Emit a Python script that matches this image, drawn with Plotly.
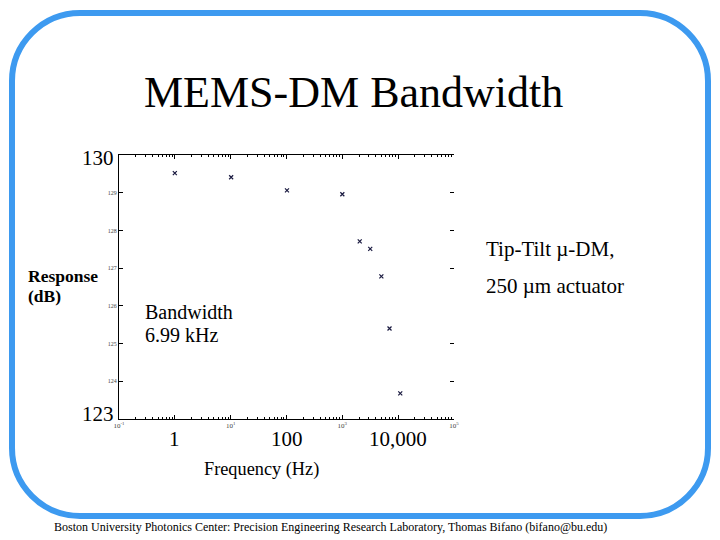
import math
import plotly.graph_objects as go

# ---- data ----
freq_hz = [1.0, 10.2, 102, 1000, 2050, 3160, 5000, 7000, 10900]
response_db = [129.52, 129.41, 129.06, 128.96, 127.71, 127.51, 126.78, 125.40, 123.68]

x_tick_text = ["10<sup>-1</sup>", "10<sup>1</sup>", "10<sup>3</sup>", "10<sup>5</sup>"]
y_tick_vals = [124, 125, 126, 127, 128, 129]
y_tick_text = ["124", "125", "126", "127", "128", "129"]
big_x_labels = ["1", "100", "10,000"]
big_x_vals = [1, 100, 10000]

OFF = 8  # page body margin in the browser
W, H = 720 - OFF, 540 - OFF
# plot area in window pixels
L, R, T, B = 119, 454, 155, 419


def px(x):
    return (x - L) / (R - L)


def py(y):
    return (B - y) / (B - T)


SERIF = "Liberation Serif, Times New Roman, serif"

fig = go.Figure()
fig.add_trace(go.Scatter(
    x=freq_hz, y=response_db, mode="markers",
    marker=dict(symbol="x-thin-open", size=4, color="#1a1a40",
                line=dict(width=1.2, color="#1a1a40")),
    showlegend=False, hoverinfo="x+y",
))
fig.add_trace(go.Scatter(x=[freq_hz[0]], y=[response_db[0]], yaxis="y2",
                         mode="markers", marker=dict(opacity=0),
                         showlegend=False, hoverinfo="skip"))

fig.update_layout(
    width=W, height=H,
    margin=dict(l=L - OFF, r=720 - R, t=T - OFF, b=540 - B),
    paper_bgcolor="white", plot_bgcolor="white",
    font=dict(family=SERIF, color="black"),
    xaxis=dict(type="log", range=[-1, 5], showgrid=False, zeroline=False,
               showline=True, linecolor="black", linewidth=1, mirror="ticks",
               ticks="inside", ticklen=4, tickcolor="black",
               tickvals=[0.1, 1, 10, 100, 1000, 10000, 100000],
               ticktext=[x_tick_text[0], "", x_tick_text[1], "", x_tick_text[2], "", x_tick_text[3]],
               tickfont=dict(size=7, color="#444", family=SERIF),
               minor=dict(ticks="inside", ticklen=2, tickcolor="black",
                          tickvals=[m * 10 ** e for e in range(-1, 5) for m in range(2, 10)])),
    yaxis=dict(range=[123, 130], showgrid=False, zeroline=False,
               showline=True, linecolor="black", linewidth=1, mirror=False,
               ticks="inside", ticklen=4, tickcolor="black",
               tickvals=y_tick_vals, ticktext=y_tick_text,
               tickfont=dict(size=6, color="#444", family=SERIF)),
    yaxis2=dict(range=[123, 130], overlaying="y", side="right", showgrid=False,
                zeroline=False, showline=False, ticks="inside", ticklen=4,
                tickcolor="black", tickvals=[124, 125, 127, 128, 129],
                showticklabels=False),
)

# rounded blue frame
x0, x1, y0, y1, r = 12, 708, 13, 516, 68
k = 0.45
path = (f"M {px(x0 + r)},{py(y0)} L {px(x1 - r)},{py(y0)} "
        f"C {px(x1 - r * k)},{py(y0)} {px(x1)},{py(y0 + r * k)} {px(x1)},{py(y0 + r)} "
        f"L {px(x1)},{py(y1 - r)} "
        f"C {px(x1)},{py(y1 - r * k)} {px(x1 - r * k)},{py(y1)} {px(x1 - r)},{py(y1)} "
        f"L {px(x0 + r)},{py(y1)} "
        f"C {px(x0 + r * k)},{py(y1)} {px(x0)},{py(y1 - r * k)} {px(x0)},{py(y1 - r)} "
        f"L {px(x0)},{py(y0 + r)} "
        f"C {px(x0)},{py(y0 + r * k)} {px(x0 + r * k)},{py(y0)} {px(x0 + r)},{py(y0)} Z")
fig.add_shape(type="path", path=path, xref="paper", yref="paper",
              line=dict(color="#3d9af0", width=6), layer="below")


def txt(s, x, y, size, xanchor="left", bold=False):
    if bold:
        s = f"<b>{s}</b>"
    fig.add_annotation(text=s, x=px(x), y=py(y), xref="paper", yref="paper",
                       xanchor=xanchor, yanchor="middle", showarrow=False,
                       font=dict(family=SERIF, size=size, color="black"))


txt("MEMS-DM Bandwidth", 353, 92, 44, xanchor="center")
txt("130", 80, 158, 21)
txt("123", 80, 414, 21)
for lab, v in zip(big_x_labels, big_x_vals):
    xpix = L + (math.log10(v) + 1) / 6 * (R - L)
    txt(lab, xpix, 439, 21, xanchor="center")
txt("Response", 26, 276, 17.5, bold=True)
txt("(dB)", 26, 296, 17.5, bold=True)
txt("Bandwidth", 143, 312, 20)
txt("6.99 kHz", 143, 335, 20)
txt("Tip-Tilt µ-DM,", 484, 249, 21)
txt("250 µm actuator", 484, 286, 21)
txt("Frequency (Hz)", 202, 469, 18.3)
txt("Boston University Photonics Center: Precision Engineering Research Laboratory, Thomas Bifano (bifano@bu.edu)",
    52, 527, 12)

fig.write_html("out.html")
